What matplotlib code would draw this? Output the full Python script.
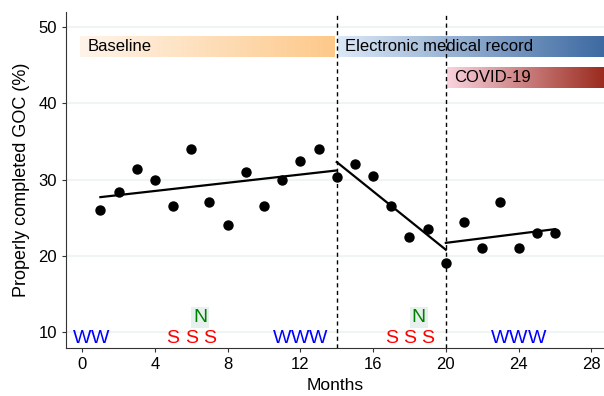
import numpy as np
import matplotlib
matplotlib.use("Agg")
import matplotlib.pyplot as plt
from matplotlib.colors import LinearSegmentedColormap

plt.rcParams['font.family'] = ['Liberation Sans', 'DejaVu Sans']

months = list(range(1, 27))
goc = [26.0, 28.4, 31.4, 29.9, 26.5, 34.0, 27.0, 24.0, 31.0, 26.5, 30.0, 32.5, 34.0,
       30.4, 32.0, 30.5, 26.5, 22.5, 23.5, 19.0, 24.5, 21.0, 27.0, 21.0, 23.0, 23.0]

# fitted segments (start month, end month, start value, end value)
seg_x = [(1, 14), (14, 20), (20, 26)]
seg_y = [(27.7, 31.2), (32.3, 20.8), (21.7, 23.5)]

breaks = [14, 20]

phase_labels = ["Baseline", "Electronic medical record", "COVID-19"]
phase_start = [-0.1, 14.05, 20.05]
phase_end = [13.9, 28.7, 28.7]
phase_ylo = [46.1, 46.1, 42.0]
phase_yhi = [48.8, 48.8, 44.7]
phase_colors = [("#FFF4EA", "#FDC98A"), ("#DCE8F8", "#3D6AA1"), ("#FAD3DF", "#9A2A1D")]

w_months = [0, 1, 11, 12, 13, 23, 24, 25]
s_months = [5, 6, 7, 17, 18, 19]
n_months = [6.5, 18.5]

fig, ax = plt.subplots(figsize=(6.04, 3.96), dpi=100)
fig.subplots_adjust(left=0.109, right=1.0, bottom=0.121, top=0.97)

ax.set_xlim(-0.9, 28.7)
ax.set_ylim(7.9, 52)
ax.set_yticks([10, 20, 30, 40, 50])
ax.set_xticks([0, 4, 8, 12, 16, 20, 24, 28])
for y in [10, 20, 30, 40, 50]:
    ax.axhline(y, color="#EEF5F3", lw=1.5, zorder=0)

for sp in ["top", "right"]:
    ax.spines[sp].set_visible(False)
ax.spines["left"].set_color("#333333")
ax.spines["bottom"].set_color("#333333")
ax.tick_params(labelsize=12, colors="#333333", labelcolor="black", length=3)

# phase bars with gradient
for lab, x0, x1, y0, y1, (c0, c1) in zip(phase_labels, phase_start, phase_end,
                                          phase_ylo, phase_yhi, phase_colors):
    cmap = LinearSegmentedColormap.from_list(lab, [c0, c1])
    grad = np.linspace(0, 1, 256).reshape(1, -1)
    ax.imshow(grad, cmap=cmap, aspect="auto", extent=(x0, x1, y0, y1),
              zorder=1, interpolation="bilinear")
    ax.text(x0 + 0.4, (y0 + y1) / 2, lab, fontsize=12, va="center", ha="left", zorder=2)

for b in breaks:
    ax.axvline(b, color="black", ls=(0, (3, 2.5)), lw=1.0, zorder=3)

ax.scatter(months, goc, s=42, color="black", zorder=4)
for (xa, xb), (ya, yb) in zip(seg_x, seg_y):
    ax.plot([xa, xb], [ya, yb], color="black", lw=1.6, zorder=4)

for m in w_months:
    ax.text(m, 9.2, "W", color="blue", fontsize=14, ha="center", va="center", zorder=5)
for m in s_months:
    ax.text(m, 9.2, "S", color="red", fontsize=14, ha="center", va="center", zorder=5)
for m in n_months:
    ax.text(m, 11.9, "N", color="green", fontsize=14, ha="center", va="center", zorder=5,
            bbox=dict(boxstyle="square,pad=0.1", fc="#E6F0EC", ec="none"))

ax.set_xlabel("Months", fontsize=12.5)
ax.set_ylabel("Properly completed GOC (%)", fontsize=13, labelpad=6)

fig.savefig("out.png", dpi=100)
